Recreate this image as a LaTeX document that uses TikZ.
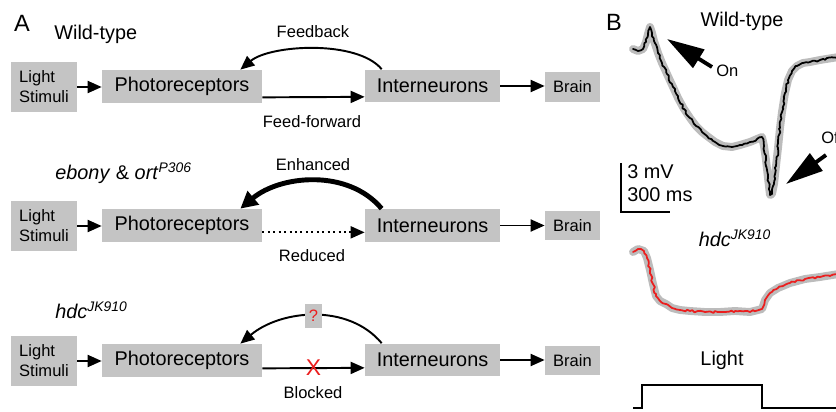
\documentclass[tikz,border=0pt]{standalone}
\usepackage{fontspec}
\setmainfont{Liberation Sans}
\usetikzlibrary{arrows.meta,decorations.pathmorphing}

\definecolor{boxgray}{RGB}{196,196,196}
\definecolor{halogray}{RGB}{188,188,188}
\definecolor{markred}{RGB}{235,30,30}

\newcommand{\bigtxt}{\fontsize{11.3}{13}\selectfont}
\newcommand{\smalltxt}{\fontsize{9.4}{11.3}\selectfont}
\newcommand{\paneltxt}{\fontsize{13.4}{15}\selectfont}

\begin{document}
\begin{tikzpicture}[x=0.02cm, y=-0.02cm,
    box/.style={fill=boxgray, inner sep=0pt, minimum height=0.66cm, font=\bigtxt},
    stimbox/.style={fill=boxgray, inner sep=0pt, minimum width=1.32cm, minimum height=1cm,
                    align=left, font=\smalltxt},
    brainbox/.style={fill=boxgray, inner sep=0pt, minimum width=1.1cm, minimum height=0.6cm,
                     font=\smalltxt},
    qbox/.style={fill=boxgray, inner sep=0pt, minimum width=0.34cm, minimum height=0.48cm,
                 text=markred, font=\smalltxt},
    lbl/.style={font=\smalltxt, inner sep=0pt},
    title/.style={font=\bigtxt, inner sep=0pt},
    arr/.style={-{Triangle[length=2.8mm,width=2.4mm]}, line width=1.1pt},
    fatarr/.style={-{Triangle[length=3.4mm,width=3.4mm]}, line width=2.8pt},
    bigarrow/.style={-{Triangle[length=0.75cm,width=0.42cm]}, line width=2.2pt},
    halo/.style={draw=halogray, line width=4.5pt, line join=round, line cap=round},
    noisy/.style={postaction={draw=#1, line width=1pt, line join=round, decorate,
                  decoration={random steps, segment length=1.5pt, amplitude=0.6pt}}}
]
\pgfmathsetseed{7}
\useasboundingbox (0,0) rectangle (836,412);
\clip (0,0) rectangle (836,412);

% Panel A
\node[font=\paneltxt, inner sep=0pt] (labA) at (22,23) {A};

% Wild-type
\node[title, anchor=west] (wtA) at (54,34) {Wild-type};
\node[stimbox] (light1) at (44,87) {Light\\Stimuli};
\node[box, minimum width=3.2cm] (photo1) at (182,86.5) {Photoreceptors};
\node[box, minimum width=2.7cm] (inter1) at (432.5,86) {Interneurons};
\node[brainbox] (brain1) at (572.5,87) {Brain};

\draw[arr] (light1.east) -- (light1.east -| photo1.west);
\draw[arr] ([yshift=0.12cm]photo1.south east) -- ([yshift=0.12cm]inter1.south west);
\draw[arr] (inter1.east) -- (inter1.east -| brain1.west);
\draw[arr] ([xshift=0.34cm]inter1.north west) to[out=130,in=40,looseness=0.7]
    ([xshift=-0.44cm]photo1.north east);
\node[lbl] (fb1) at (313,32) {Feedback};
\node[lbl] (ff1) at (312,122) {Feed-forward};

% ebony & ort
\node[title, anchor=west] (mutA) at (55,173)
    {\textit{ebony} \& \textit{ort}\textsuperscript{\textit{P306}}};
\node[stimbox] (light2) at (44,226) {Light\\Stimuli};
\node[box, minimum width=3.2cm] (photo2) at (182,225.5) {Photoreceptors};
\node[box, minimum width=2.7cm] (inter2) at (432.5,225.5) {Interneurons};
\node[brainbox] (brain2) at (572.5,225.5) {Brain};

\draw[arr] (light2.east) -- (light2.east -| photo2.west);
\draw[arr, dotted] ([yshift=0.2cm]photo2.south east) -- ([yshift=0.2cm]inter2.south west);
\draw[arr] (inter2.east) -- (inter2.east -| brain2.west);
\draw[fatarr] ([xshift=0.34cm]inter2.north west) to[out=130,in=40,looseness=0.95]
    ([xshift=-0.44cm]photo2.north east);
\node[lbl] (fb2) at (313,165) {Enhanced};
\node[lbl] (ff2) at (312,256) {Reduced};

% hdc
\node[title, anchor=west] (hdcA) at (55,310) {\textit{hdc}\textsuperscript{\textit{JK910}}};
\node[stimbox] (light3) at (44,361) {Light\\Stimuli};
\node[box, minimum width=3.2cm] (photo3) at (182,360.5) {Photoreceptors};
\node[box, minimum width=2.7cm] (inter3) at (432.5,360) {Interneurons};
\node[brainbox] (brain3) at (572.5,360.5) {Brain};

\draw[arr] (light3.east) -- (light3.east -| photo3.west);
\draw[arr] ([yshift=0.18cm]photo3.south east) -- node[text=markred, font=\fontsize{13}{13}\selectfont,
    inner sep=0pt] (block3) {X} ([yshift=0.18cm]inter3.south west);
\draw[arr] (inter3.east) -- (inter3.east -| brain3.west);
\draw[arr] ([xshift=0.34cm]inter3.north west) to[out=130,in=40,looseness=0.95]
    node[qbox, pos=0.5] (q3) {?} ([xshift=-0.44cm]photo3.north east);
\node[lbl] (ff3) at (313,393) {Blocked};

% Panel B
\node[font=\paneltxt, inner sep=0pt] (labB) at (614,22) {B};
\node[title] (wtB) at (742,21) {Wild-type};
\path[halo, noisy=black] plot coordinates {
    (633,49) (638,51) (643,49) (646,42) (648,34) (650,27) (652,33) (654,41) (658,53)
    (662,63) (667,74) (673,87) (678,98) (684,109) (690,118) (696,126) (702,132)
    (707,136) (715,142) (723,146) (732,147) (740,145) (750,142) (757,139) (762,137)
    (764,146) (766,160) (768,178) (770,195) (772,194) (774,184) (776,166) (778,148)
    (780,128) (782,112) (785,93) (788,80) (792,71) (797,66) (803,63) (810,62)
    (820,60) (845,56)};

\coordinate (onbase) at (712,67);
\coordinate (ontip) at (667,39);
\draw[bigarrow] (onbase) -- (ontip);
\node[lbl, anchor=west] (on) at (716,71) {On};
\coordinate (offbase) at (826,155);
\coordinate (offtip) at (786,184);
\draw[bigarrow] (offbase) -- (offtip);
\node[lbl, anchor=west] (off) at (821,138) {Off};

% scale bar
\coordinate (sbtop) at (621,163);
\coordinate (sbcorner) at (621,212);
\coordinate (sbend) at (670,212);
\draw[line width=1pt] (sbtop) -- (sbcorner) -- (sbend);
\node[title, anchor=west] (mv) at (627,172) {3 mV};
\node[title, anchor=west] (ms) at (627,195) {300 ms};

\node[title] (hdcB) at (735,238) {\textit{hdc}\textsuperscript{\textit{JK910}}};
\path[halo, noisy=markred] plot coordinates {
    (633,252) (638,249) (644,251) (647,258) (650,270) (653,284) (656,296) (660,301)
    (666,304) (672,308) (680,310) (690,311) (705,312) (720,312) (735,311) (750,312)
    (762,309) (765,300) (770,293) (778,288) (790,283) (805,279) (820,277) (845,273)};

\node[title] (lightB) at (722,360) {Light};
\draw[line width=1pt] (633,408) -- (642,408) -- (642,385) -- (762,385) -- (762,408) -- (845,408);

\end{tikzpicture}
\end{document}
